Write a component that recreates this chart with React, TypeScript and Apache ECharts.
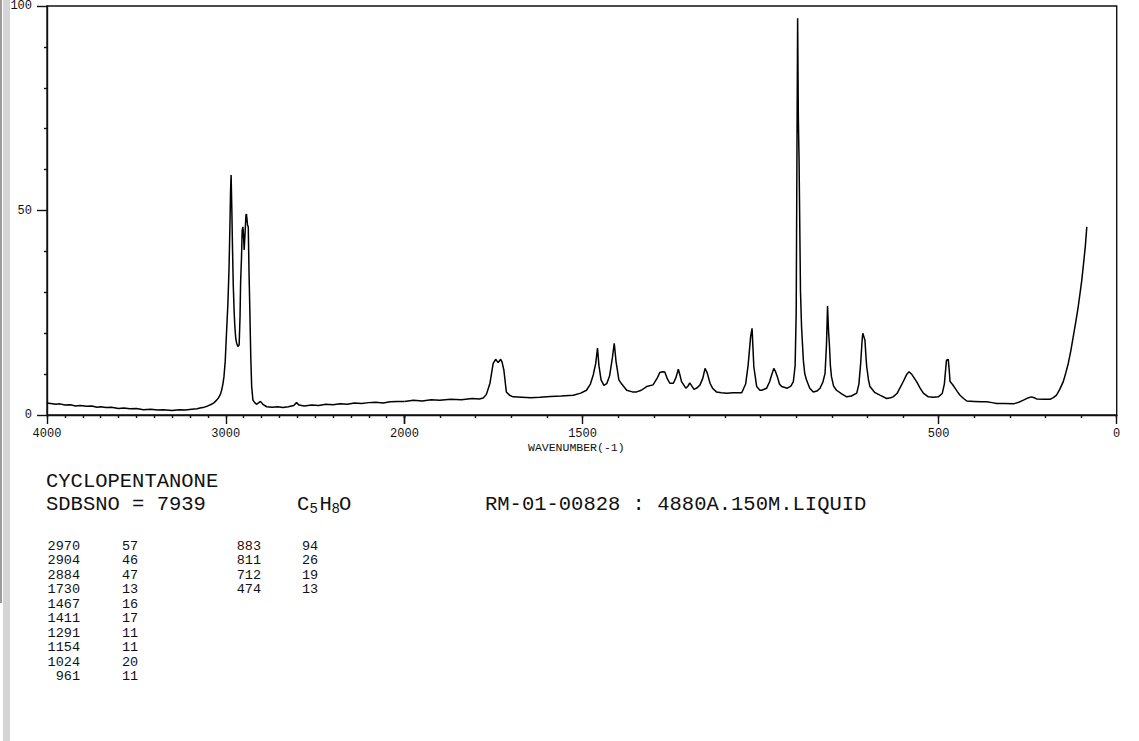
import React, { useEffect, useRef } from "react";
import * as echarts from "echarts";

// Raman spectrum of cyclopentanone: [wavenumber (cm-1), relative intensity]
const highRegion: [number, number][] = [
  [4000, 2.9], [3980, 2.8], [3950, 2.6], [3927, 2.7], [3900, 2.4], [3870, 2.5], [3840, 2.2], [3815, 2.3],
  [3780, 2.1], [3750, 2.2], [3720, 1.9], [3700, 2.0], [3670, 1.8], [3640, 1.9], [3600, 1.6], [3570, 1.7],
  [3536, 1.5], [3500, 1.6], [3460, 1.3], [3420, 1.4], [3380, 1.2], [3350, 1.3], [3300, 1.1], [3260, 1.3],
  [3228, 1.2], [3190, 1.4], [3160, 1.5], [3144, 1.7], [3120, 1.9], [3100, 2.2], [3080, 2.6], [3065, 3.0],
  [3051, 3.6], [3040, 4.2], [3030, 5.0], [3023, 6.0], [3016, 7.5], [3010, 9.3], [3003, 13], [2995, 20.6],
  [2988, 27], [2982, 35], [2977, 45], [2973, 54.5], [2970, 58.2], [2966, 50], [2962, 40], [2958, 31.5],
  [2953, 25], [2949, 21.4], [2944, 18.5], [2939, 17.4], [2932, 16.6], [2925, 17], [2920, 24], [2917, 32],
  [2912, 38], [2908, 44.8], [2904, 45.6], [2900, 43], [2897, 40], [2892, 44], [2887, 48.5], [2884, 48.7],
  [2878, 46], [2874, 45.6], [2870, 35], [2865, 25], [2860, 14], [2855, 6.9], [2848, 3.6], [2838, 3.0],
  [2828, 2.6], [2815, 3.0], [2806, 3.3], [2800, 3.0], [2790, 2.5], [2771, 2.0], [2740, 1.9], [2710, 2.0],
  [2680, 1.8], [2650, 2.0], [2620, 2.3], [2604, 3.0], [2590, 2.4], [2560, 2.2], [2520, 2.4], [2480, 2.3],
  [2440, 2.6], [2400, 2.5], [2360, 2.7], [2320, 2.6], [2280, 2.9], [2240, 2.8], [2200, 3.0], [2160, 3.1],
  [2120, 2.9], [2080, 3.2], [2040, 3.3], [2000, 3.3],
];

const lowRegion: [number, number][] = [
  [2000, 3.3], [1975, 3.6], [1950, 3.4], [1925, 3.7], [1901, 3.6], [1870, 3.8], [1840, 3.7], [1810, 4.0],
  [1790, 3.9], [1779, 4.1], [1770, 5.0], [1760, 7.7], [1751, 12.5], [1744, 13.5], [1737, 12.7], [1730, 13.5],
  [1726, 12.8], [1721, 10.9], [1714, 5.6], [1705, 4.8], [1695, 4.4], [1670, 4.3], [1645, 4.2], [1620, 4.3],
  [1590, 4.5], [1560, 4.6], [1526, 4.8], [1505, 5.3], [1489, 6.0], [1478, 7.5], [1470, 9.7], [1463, 12.5],
  [1458, 16.2], [1454, 12], [1448, 8.5], [1440, 7.2], [1432, 7.6], [1424, 9.5], [1416, 14], [1411, 17.4],
  [1406, 13], [1398, 8.5], [1390, 7.5], [1376, 6.0], [1360, 5.6], [1348, 5.6], [1335, 6.0], [1320, 6.9],
  [1302, 7.3], [1290, 9.0], [1283, 10.3], [1275, 10.5], [1269, 10.4], [1262, 8.8], [1255, 7.7], [1245, 7.7],
  [1238, 9.0], [1231, 11.1], [1226, 9.5], [1222, 8.1], [1210, 6.5], [1204, 7.0], [1199, 7.8], [1193, 7.0],
  [1187, 6.2], [1178, 6.6], [1170, 7.3], [1162, 9.0], [1156, 11.3], [1150, 10.2], [1142, 7.7], [1135, 6.5],
  [1124, 5.6], [1110, 5.4], [1095, 5.3], [1077, 5.4], [1053, 5.4], [1042, 7.5], [1035, 12.1], [1028, 19],
  [1024, 21], [1019, 11.7], [1011, 6.9], [1002, 6.0], [997, 6.0], [983, 6.5], [975, 8.0], [969, 9.7],
  [963, 11.3], [958, 10.5], [953, 9.3], [947, 7.5], [941, 6.9], [925, 6.5], [915, 7.0], [908, 8.1],
  [903, 12], [900, 25], [898, 62.2], [896, 96.2], [894, 72], [892, 62], [888, 30], [885, 21.4],
  [880, 13.3], [876, 10], [871, 8.5], [862, 6.5], [852, 5.6], [842, 5.8], [833, 6.5], [825, 8],
  [819, 10.1], [815, 17], [812, 26.4], [809, 20], [807, 17.4], [804, 12], [801, 9.3], [795, 7],
  [787, 6.0], [770, 5], [758, 4.4], [745, 4.6], [730, 5.3], [724, 7.5], [719, 12.5], [715, 18],
  [713, 19.8], [710, 19], [707, 18.2], [704, 14], [702, 11.7], [697, 8.5], [693, 6.9], [680, 5.5],
  [665, 4.8], [646, 4.0], [635, 4.2], [628, 4.4], [617, 5.2], [609, 6.5], [600, 8], [590, 9.8],
  [583, 10.5], [575, 9.8], [562, 8.1], [552, 6.5], [543, 5.3], [529, 4.4], [515, 4.3], [501, 4.4],
  [490, 5.2], [484, 7.5], [478, 13.3], [473, 13.5], [470, 10.5], [468, 8.1], [461, 7.4], [454, 6.5],
  [447, 5.6], [440, 4.8], [430, 4.0], [421, 3.4], [400, 3.3], [380, 3.2], [365, 3.2], [350, 3.0],
  [337, 2.8], [315, 2.8], [290, 2.7], [275, 3.1], [262, 3.6], [250, 4.1], [239, 4.4], [232, 4.2],
  [225, 3.9], [205, 3.8], [187, 3.8], [178, 4.2], [169, 4.8], [160, 6.2], [150, 8.1], [143, 10.2],
  [136, 12.5], [129, 15.5], [122, 19], [115, 22.5], [108, 26.3], [103, 29.5], [98, 32.7], [92, 37.6],
  [88, 41], [84, 45.6],
];

// Axis ticks and labels
const yTickValues = [0, 50, 100];
const xHighTicks = [4000, 3000, 2000];
const xHighLabels = [4000, 3000, 2000];
const xLowTicks = [2000, 1500, 500, 0];
const xLowLabels = [1500, 500, 0];
const xAxisTitle = "WAVENUMBER(-1)";

// Header texts
const compoundName = "CYCLOPENTANONE";
const sdbsLine = "SDBSNO = 7939";
const recordLine = "RM-01-00828 : 4880A.150M.LIQUID";
const formulaParts = ["C", "5", "H", "8", "O"];
const formulaIsSub = [false, true, false, true, false];

// Peak table
const peakWnA = ["2970", "2904", "2884", "1730", "1467", "1411", "1291", "1154", "1024", "961"];
const peakIntA = ["57", "46", "47", "13", "16", "17", "11", "11", "20", "11"];
const peakWnB = ["883", "811", "712", "474"];
const peakIntB = ["94", "26", "19", "13"];

const FONT = "Liberation Mono";
const INK = "#111";

export default function App() {
  const ref = useRef<HTMLDivElement>(null);

  useEffect(() => {
    if (!ref.current) return;
    const chart = echarts.init(ref.current, undefined, { renderer: "svg" });

    const txt = (x: number, y: number, text: string, font: string, align = "left") => ({
      type: "text", x, y, silent: true,
      style: { text, font, fill: INK, align, textAlign: align, verticalAlign: "middle", textVerticalAlign: "middle" },
    });

    const tableRowTop = 546;
    const rowStep = 14.5;
    const tableFont = `13.5px "${FONT}"`;
    const tableTexts: any[] = [];
    peakWnA.forEach((w, i) => {
      tableTexts.push(txt(80, tableRowTop + i * rowStep, w, tableFont, "right"));
      tableTexts.push(txt(122, tableRowTop + i * rowStep, peakIntA[i], tableFont, "left"));
    });
    peakWnB.forEach((w, i) => {
      tableTexts.push(txt(261, tableRowTop + i * rowStep, w, tableFont, "right"));
      tableTexts.push(txt(302, tableRowTop + i * rowStep, peakIntB[i], tableFont, "left"));
    });

    const bigFont = `20.5px "${FONT}"`;
    const subFont = `14px "${FONT}"`;
    const headerY = 504;
    const formulaX = [297, 309.5, 319.5, 331.5, 339];
    const formulaTexts = formulaParts.map((p, i) =>
      txt(formulaX[i], formulaIsSub[i] ? headerY + 5 : headerY, p, formulaIsSub[i] ? subFont : bigFont, "left"));

    const lineStyle = { color: INK, width: 1.4 };
    const labelStyle = { color: INK, fontFamily: FONT, fontSize: 12, formatter: (v: number) => String(v) };

    const option: any = {
      animation: false,
      backgroundColor: "#fff",
      grid: [
        { left: 47, top: 2.5, width: 357.5, height: 412.5, show: false },
        { left: 404.5, top: 2.5, width: 712.2, height: 412.5, show: false },
        { left: 47, top: 2.5, width: 1069.7, height: 412.5, show: true, borderColor: INK, borderWidth: 1.4, backgroundColor: "transparent" },
      ],
      xAxis: [
        { type: "value", gridIndex: 0, min: 2000, max: 4000, inverse: true, interval: 100, position: "bottom",
          axisLine: { show: true, lineStyle }, axisTick: { show: true, length: 3, lineStyle },
          axisLabel: { show: false }, splitLine: { show: false } },
        { type: "value", gridIndex: 0, min: 2000, max: 4000, inverse: true, position: "bottom",
          axisLine: { show: false }, axisTick: { show: true, length: 9, lineStyle, customValues: xHighTicks },
          axisLabel: { show: true, margin: 13, customValues: xHighLabels, ...labelStyle }, splitLine: { show: false } },
        { type: "value", gridIndex: 1, min: 0, max: 2000, inverse: true, interval: 100, position: "bottom",
          axisLine: { show: true, lineStyle }, axisTick: { show: true, length: 3, lineStyle },
          axisLabel: { show: false }, splitLine: { show: false } },
        { type: "value", gridIndex: 1, min: 0, max: 2000, inverse: true, position: "bottom",
          axisLine: { show: false }, axisTick: { show: true, length: 9, lineStyle, customValues: xLowTicks },
          axisLabel: { show: true, margin: 13, customValues: xLowLabels, ...labelStyle }, splitLine: { show: false } },
        { type: "value", gridIndex: 2, min: 0, max: 1, show: false },
      ],
      yAxis: [
        { type: "value", gridIndex: 0, min: 0, max: 100, show: false },
        { type: "value", gridIndex: 1, min: 0, max: 100, show: false },
        { type: "value", gridIndex: 2, min: 0, max: 100, interval: 50, position: "left",
          axisLine: { show: true, lineStyle },
          axisTick: { show: true, length: 10, lineStyle, customValues: yTickValues },
          minorTick: { show: true, splitNumber: 5, length: 3, lineStyle },
          axisLabel: { show: true, margin: 15, ...labelStyle },
          splitLine: { show: false }, minorSplitLine: { show: false } },
      ],
      series: [
        { type: "line", xAxisIndex: 0, yAxisIndex: 0, data: highRegion, symbol: "none",
          lineStyle: { color: "#000", width: 1.5 }, silent: true, clip: true },
        { type: "line", xAxisIndex: 2, yAxisIndex: 1, data: lowRegion, symbol: "none",
          lineStyle: { color: "#000", width: 1.5 }, silent: true, clip: true },
      ],
      graphic: {
        elements: [
          { type: "rect", shape: { x: 3, y: 0, width: 7, height: 741 }, style: { fill: "#d5d5d5" }, silent: true },
          { type: "rect", shape: { x: 0, y: 0, width: 2, height: 603 }, style: { fill: "#9c9c9c" }, silent: true },
          txt(528, 447, xAxisTitle, `11.5px "${FONT}"`),
          txt(46, 481.5, compoundName, bigFont),
          txt(46, headerY, sdbsLine, bigFont),
          ...formulaTexts,
          txt(485, headerY, recordLine, bigFont),
          ...tableTexts,
        ],
      },
    };

    chart.setOption(option);
    return () => chart.dispose();
  }, []);

  return (
    <div style={{ position: "absolute", left: 0, top: 0, width: 1139, height: 741, background: "#fff" }}>
      <div ref={ref} style={{ width: 1139, height: 741 }} />
    </div>
  );
}
